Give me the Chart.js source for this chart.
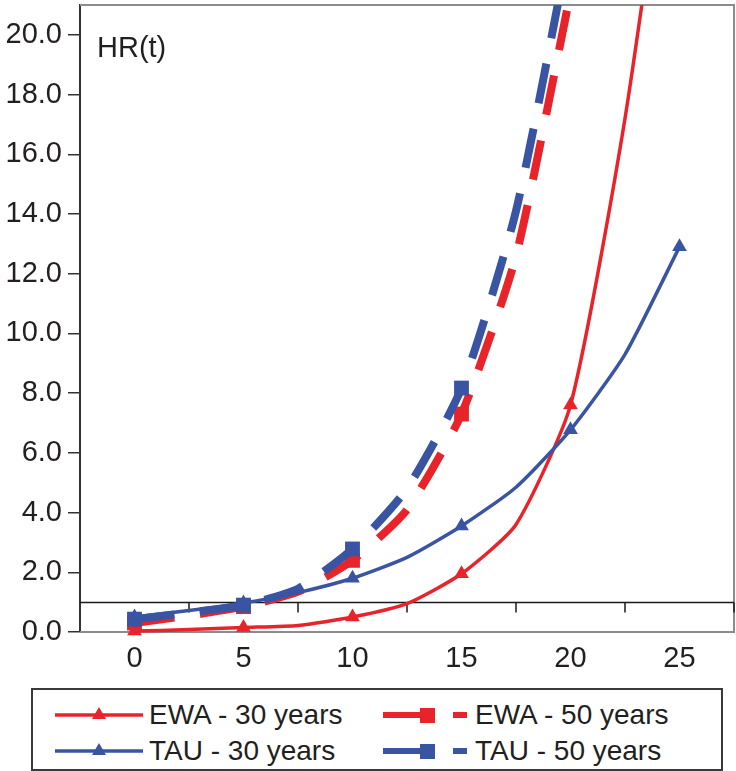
<!DOCTYPE html>
<html>
<head>
<meta charset="utf-8">
<script src="https://cdn.jsdelivr.net/npm/chart.js@4.4.0/dist/chart.umd.min.js"></script>
<style>
  body { margin: 0; background: #fff; font-family: 'Liberation Sans', Arial, sans-serif; color: #231f20; }
  #wrap { position: relative; width: 736px; height: 771px; }
  #chartBox { position: absolute; left: 0; top: 0; width: 736px; height: 680px; }
  #legend { position: absolute; left: 31px; top: 688px; width: 688px; height: 79px; border: 2px solid #3a3a3a; }
  .item { position: absolute; height: 36px; display: flex; align-items: center; font-size: 28px; white-space: nowrap; }
  .item svg { display: block; margin-right: 6px; }
</style>
</head>
<body>
<div id="wrap">
  <div id="chartBox"><canvas id="chart"></canvas></div>
  <div id="legend"></div>
</div>
<script>
// time (years) and hazard ratios
const years = [0, 2.5, 5, 7.5, 10, 12.5, 15, 17.5, 20, 22.5, 25];
const ewa30 = [0.03, 0.08, 0.15, 0.22, 0.5, 0.95, 1.95, 3.6, 7.6, 17.2, 30];
const ewa50 = [0.3, 0.55, 0.85, 1.35, 2.4, 4.1, 7.3, 12.6, 21.4];
const tau30 = [0.5, 0.72, 0.97, 1.32, 1.8, 2.5, 3.55, 4.85, 6.77, 9.3, 12.9];
const tau50 = [0.43, 0.65, 0.9, 1.45, 2.78, 4.8, 8.17, 14.1, 23.2];

const xTicks = [0, 5, 10, 15, 20, 25];
const yTicks = [0, 2, 4, 6, 8, 10, 12, 14, 16, 18, 20];
const xMin = -2.5, xMax = 27.5, yMin = 0, yMax = 21;
const refValue = 1;
const axisTitle = 'HR(t)';

const RED = '#e8232a';
const BLUE = '#3a54a4';
const FONT = "'Liberation Sans', Arial, sans-serif";

function toPoints(vals) {
    return vals.map((v, i) => ({ x: years[i], y: v }));
}

function markerRadius(r) {
    return ctx => {
        const p = ctx.raw;
        if (!p) return 0;
        return (p.x % 5 === 0 && p.y <= yMax) ? r : 0;
    };
}

const seriesDefs = [
    { label: 'EWA - 30 years', data: ewa30, color: RED, dashed: false, order: 4 },
    { label: 'EWA - 50 years', data: ewa50, color: RED, dashed: true, order: 3 },
    { label: 'TAU - 30 years', data: tau30, color: BLUE, dashed: false, order: 2 },
    { label: 'TAU - 50 years', data: tau50, color: BLUE, dashed: true, order: 1 }
];

const datasets = seriesDefs.map(s => ({
    label: s.label,
    data: toPoints(s.data),
    borderColor: s.color,
    backgroundColor: s.color,
    pointBackgroundColor: s.color,
    pointBorderColor: s.color,
    pointBorderWidth: 0,
    borderWidth: s.dashed ? 8 : 3.5,
    borderDash: s.dashed ? [40, 26] : [],
    borderCapStyle: 'butt',
    pointStyle: s.dashed ? 'rect' : 'triangle',
    pointRadius: markerRadius(s.dashed ? 10.5 : 8.5),
    pointHoverRadius: markerRadius(s.dashed ? 10.5 : 8.5),
    tension: 0.2,
    fill: false,
    order: s.order,
    clip: { left: false, top: 0, right: false, bottom: false }
}));

// plot frame, reference line at HR = 1 and the HR(t) label
const framePlugin = {
    id: 'frame',
    beforeDatasetsDraw(chart) {
        const { ctx, chartArea: a, scales } = chart;
        ctx.save();
        ctx.strokeStyle = '#8c8c8c';
        ctx.lineWidth = 2;
        ctx.beginPath();
        ctx.moveTo(a.left, a.top);
        ctx.lineTo(a.right, a.top);
        ctx.lineTo(a.right, a.bottom);
        ctx.lineTo(a.left, a.bottom);
        ctx.stroke();

        const y = Math.round(scales.y.getPixelForValue(refValue)) + 0.5;
        ctx.strokeStyle = '#1a1a1a';
        ctx.lineWidth = 1.5;
        ctx.beginPath();
        ctx.moveTo(a.left, y);
        ctx.lineTo(a.right, y);
        xTicks.forEach(t => {
            const x = scales.x.getPixelForValue(t + 2.5);
            ctx.moveTo(x, y);
            ctx.lineTo(x, y + 10);
        });
        ctx.stroke();
        ctx.restore();
    },
    afterDraw(chart) {
        const { ctx, chartArea: a } = chart;
        ctx.save();
        ctx.fillStyle = '#231f20';
        ctx.font = '29px ' + FONT;
        ctx.textBaseline = 'alphabetic';
        ctx.fillText(axisTitle, a.left + 17, a.top + 52);
        ctx.restore();
    }
};

new Chart(document.getElementById('chart'), {
    type: 'line',
    data: { datasets: datasets },
    options: {
        responsive: true,
        maintainAspectRatio: false,
        animation: false,
        layout: { autoPadding: false, padding: { top: 5, right: 2, left: 0, bottom: 0 } },
        plugins: {
            legend: { display: false },
            tooltip: { enabled: false }
        },
        scales: {
            x: {
                type: 'linear',
                min: xMin,
                max: xMax,
                afterBuildTicks: scale => { scale.ticks = xTicks.map(v => ({ value: v })); },
                afterFit: scale => {
                    scale.height = 48;
                    scale.paddingLeft = 0;
                    scale.paddingRight = 0;
                },
                grid: { display: false, drawTicks: false },
                border: { display: false },
                ticks: {
                    color: '#231f20',
                    font: { family: FONT, size: 29 },
                    padding: 10,
                    maxRotation: 0,
                    autoSkip: false
                }
            },
            y: {
                type: 'linear',
                min: yMin,
                max: yMax,
                afterBuildTicks: scale => { scale.ticks = yTicks.map(v => ({ value: v })); },
                afterFit: scale => {
                    scale.width = 80;
                    scale.paddingTop = 0;
                    scale.paddingBottom = 0;
                },
                grid: {
                    drawOnChartArea: false,
                    drawTicks: true,
                    tickLength: 12,
                    color: '#333',
                    lineWidth: 1.5
                },
                border: { display: true, color: '#333', width: 2 },
                ticks: {
                    color: '#231f20',
                    font: { family: FONT, size: 29 },
                    padding: 6,
                    autoSkip: false,
                    callback: v => Number(v).toFixed(1)
                }
            }
        }
    },
    plugins: [framePlugin]
});

// legend with line + marker samples
function sampleSvg(color, dashed) {
    if (!dashed) {
        return `<svg width="88" height="20"><line x1="0" y1="10" x2="88" y2="10" stroke="${color}" stroke-width="3.5"/>` +
               `<polygon points="44,2 51,14 37,14" fill="${color}"/></svg>`;
    }
    return `<svg width="86" height="20"><rect x="0" y="7" width="44" height="6" fill="${color}"/>` +
           `<rect x="37" y="3" width="15" height="15" fill="${color}"/>` +
           `<rect x="70" y="7" width="14" height="6" fill="${color}"/></svg>`;
}

const legendPos = [
    { left: 22, top: 7 }, { left: 350, top: 7 },
    { left: 22, top: 43 }, { left: 350, top: 43 }
];
const legendEl = document.getElementById('legend');
seriesDefs.forEach((s, i) => {
    const div = document.createElement('div');
    div.className = 'item';
    div.style.left = legendPos[i].left + 'px';
    div.style.top = legendPos[i].top + 'px';
    div.innerHTML = sampleSvg(s.color, s.dashed) + '<span>' + s.label + '</span>';
    legendEl.appendChild(div);
});
</script>
</body>
</html>
